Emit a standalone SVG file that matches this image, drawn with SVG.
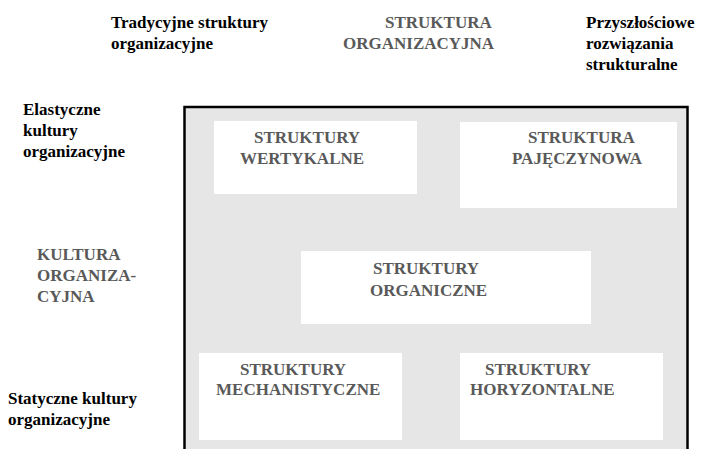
<svg xmlns="http://www.w3.org/2000/svg" width="703" height="449" viewBox="0 0 703 449">
<style>
text{font-weight:bold;font-size:17px}
.k{fill:#000}
.g{fill:#595959}
.box{fill:#fff}
</style>
<rect width="703" height="449" fill="#fff"/>
<g id="frame">
<rect x="184.5" y="107" width="503" height="360" fill="#e6e6e6" stroke="#000" stroke-width="2.5"/>
</g>
<g id="labels" font-family="'Liberation Serif', 'Times New Roman', Times, serif">
<text class="k" x="111" y="28">Tradycyjne struktury</text>
<text class="k" x="111" y="49">organizacyjne</text>
<text class="g" x="385" y="28">STRUKTURA</text>
<text class="g" x="343" y="49">ORGANIZACYJNA</text>
<text class="k" x="586" y="28">Przyszłościowe</text>
<text class="k" x="586" y="49">rozwiązania</text>
<text class="k" x="586" y="70">strukturalne</text>
<text class="k" x="23" y="115">Elastyczne</text>
<text class="k" x="23" y="136">kultury</text>
<text class="k" x="23" y="157">organizacyjne</text>
<text class="g" x="37" y="260">KULTURA</text>
<text class="g" x="37" y="281">ORGANIZA-</text>
<text class="g" x="37" y="302">CYJNA</text>
<text class="k" x="8" y="404">Statyczne kultury</text>
<text class="k" x="8" y="425">organizacyjne</text>
</g>
<g id="nodes" font-family="'Liberation Serif', 'Times New Roman', Times, serif">
<g id="node-wertykalne">
<rect class="box" x="214" y="121" width="203" height="73"/>
<text class="g" x="254" y="143">STRUKTURY</text>
<text class="g" x="240" y="164">WERTYKALNE</text>
</g>
<g id="node-pajeczynowa">
<rect class="box" x="460" y="122" width="217" height="86"/>
<text class="g" x="528" y="143">STRUKTURA</text>
<text class="g" x="512" y="164">PAJĘCZYNOWA</text>
</g>
<g id="node-organiczne">
<rect class="box" x="301" y="251" width="290" height="73"/>
<text class="g" x="373" y="274">STRUKTURY</text>
<text class="g" x="370" y="296">ORGANICZNE</text>
</g>
<g id="node-mechanistyczne">
<rect class="box" x="199" y="353" width="203" height="87"/>
<text class="g" x="240" y="375">STRUKTURY</text>
<text class="g" x="216" y="395">MECHANISTYCZNE</text>
</g>
<g id="node-horyzontalne">
<rect class="box" x="460" y="353" width="203" height="87"/>
<text class="g" x="485" y="375">STRUKTURY</text>
<text class="g" x="470" y="395">HORYZONTALNE</text>
</g>
</g>
<g id="connectors"></g>
</svg>
